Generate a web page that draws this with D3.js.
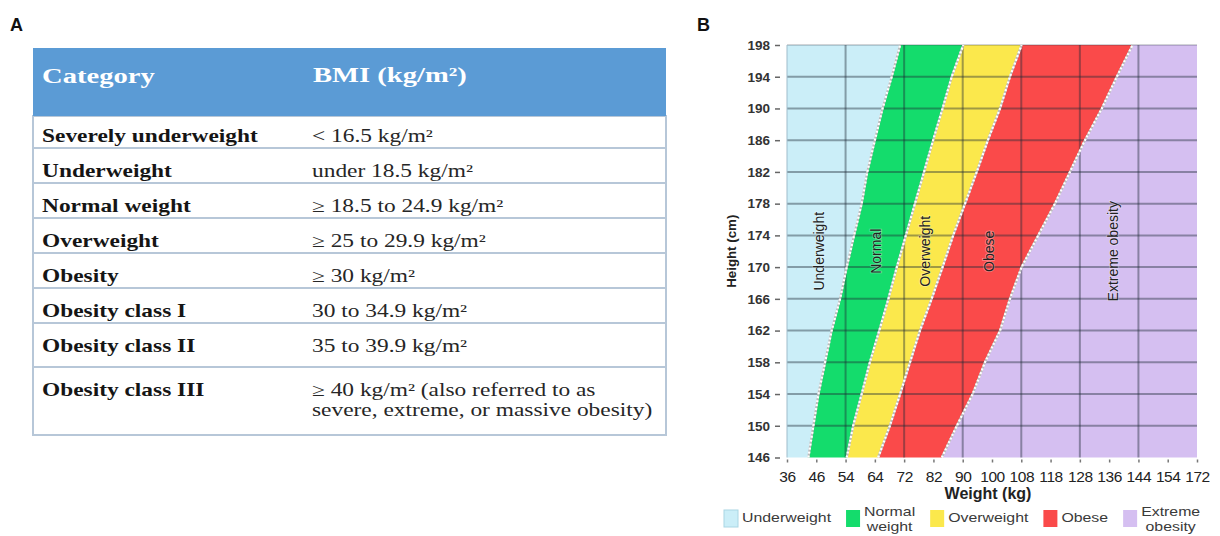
<!DOCTYPE html>
<html><head><meta charset="utf-8">
<script src="https://cdn.jsdelivr.net/npm/d3@7"></script>
<style>body{margin:0;background:#fff}svg{display:block}</style>
</head><body>
<svg id="c" width="1220" height="536"></svg>
<script>
// ---------- DATA ----------
// Panel A (table)
const tableHeaders = ["Category", "BMI (kg/m²)"];
const categories = ["Severely underweight","Underweight","Normal weight","Overweight","Obesity","Obesity class I","Obesity class II","Obesity class III"];
const bmiRanges = [
  ["< 16.5 kg/m²"],
  ["under 18.5 kg/m²"],
  ["≥ 18.5 to 24.9 kg/m²"],
  ["≥ 25 to 29.9 kg/m²"],
  ["≥ 30 kg/m²"],
  ["30 to 34.9 kg/m²"],
  ["35 to 39.9 kg/m²"],
  ["≥ 40 kg/m² (also referred to as", "severe, extreme, or massive obesity)"]
];
// Panel B (BMI chart)
const weightTicks = [36,46,54,64,72,82,90,100,108,118,128,136,144,154,172];
const weightGrid = [54,72,90,108,128,144];
const heightTicks = [146,150,154,158,162,166,170,174,178,182,186,190,194,198];
const heights = [146,150,154,158,162,166,170,174,178,182,186,190,194,198];
const underNormal  = [43.3,45.0,46.6,48.4,50.2,52.5,54.4,56.9,59.5,61.4,64.0,66.1,68.6,70.9];
const normalOver   = [54.4,56.6,59.5,62.3,65.2,67.7,70.0,72.6,75.7,78.8,81.9,84.5,87.0,90.2];
const overObese    = [64.9,68.1,70.9,74.0,77.4,81.4,84.5,87.4,90.8,94.8,98.6,102.2,104.9,108.1];
const obeseExtreme = [84.3,88.4,93.4,97.6,102.2,104.9,108.1,113.8,119.5,124.6,129.4,134.0,138.1,142.4];
const bandNames = ["Underweight","Normal","Overweight","Obese","Extreme obesity"];
const legendNames = [["Underweight"],["Normal","weight"],["Overweight"],["Obese"],["Extreme","obesity"]];

// ---------- STYLE / LAYOUT ----------
const bandColors = ["#cbeef8","#14dc6c","#fbe84c","#fa4a4a","#d5bff1"];
const svg = d3.select("#c");
svg.append("rect").attr("width",1220).attr("height",536).attr("fill","#fff");

// Panel letters
svg.append("text").attr("x",10).attr("y",31).text("A")
  .attr("font-family","Liberation Sans, Arial, sans-serif").attr("font-weight","bold").attr("font-size",18).attr("fill","#111");
svg.append("text").attr("x",697).attr("y",31).text("B")
  .attr("font-family","Liberation Sans, Arial, sans-serif").attr("font-weight","bold").attr("font-size",18).attr("fill","#111");

// ---------- PANEL A ----------
const T = {x0:33, x1:666, top:48, headBottom:116, col2:312, sx:1.3};
const rowHeights = [32,35,35,35,35,35,44,68];
const rowTops = [];
{ let yy = T.headBottom; rowHeights.forEach(h => { rowTops.push(yy); yy += h; }); }
const tableBottom = rowTops[rowTops.length-1] + rowHeights[rowHeights.length-1];
const gA = svg.append("g");
gA.append("rect").attr("x",T.x0).attr("y",T.headBottom).attr("width",T.x1-T.x0).attr("height",tableBottom-T.headBottom)
  .attr("fill","#fff").attr("stroke","#b7c7d8").attr("stroke-width",2);
gA.append("rect").attr("x",T.x0).attr("y",T.top).attr("width",T.x1-T.x0).attr("height",T.headBottom-T.top)
  .attr("fill","#5b9bd5");
gA.selectAll("line.row").data(rowTops.slice(1)).join("line").attr("class","row")
  .attr("x1",T.x0).attr("x2",T.x1).attr("y1",d=>d).attr("y2",d=>d)
  .attr("stroke","#b7c7d8").attr("stroke-width",2);

function stretched(g, x, y, txt, opts){
  return g.append("text").attr("transform",`translate(${x},${y}) scale(${T.sx},1)`)
    .attr("font-family","Liberation Serif, 'Times New Roman', serif")
    .attr("font-size",opts.size).attr("font-weight",opts.weight||"normal").attr("fill",opts.fill).text(txt);
}
stretched(gA, 42, 83, tableHeaders[0], {size:22, weight:"bold", fill:"#fff"});
stretched(gA, 313, 82, tableHeaders[1], {size:22, weight:"bold", fill:"#fff"});
categories.forEach((c,i) => {
  const base = i < 7 ? rowTops[i] + rowHeights[i] - (i===6 ? 15 : 6) : rowTops[i] + 29;
  stretched(gA, 42, base, c, {size:18, weight:"bold", fill:"#151515"});
  bmiRanges[i].forEach((line,k) => {
    stretched(gA, T.col2, base + k*20, line, {size:18, fill:"#262626"});
  });
});

// ---------- PANEL B ----------
const P = {left:787, right:1197, top:45, bottom:457.5};
const step = (P.right-P.left)/(weightTicks.length-1);
const x = d3.scaleLinear().domain(weightTicks).range(weightTicks.map((d,i)=>P.left + i*step));
const y = d3.scaleLinear().domain([heightTicks[0], heightTicks[heightTicks.length-1]]).range([P.bottom, P.top]);
const gB = svg.append("g");

const boundaries = [underNormal, normalOver, overObese, obeseExtreme];
const wMin = weightTicks[0], wMax = weightTicks[weightTicks.length-1];
const bands = bandNames.map((name,i) => ({
  name, color: bandColors[i],
  pts: heights.map((h,j) => ({h, l: i===0 ? wMin : boundaries[i-1][j], r: i===4 ? wMax : boundaries[i][j]}))
}));
const area = d3.area().y(d=>y(d.h)).x0(d=>x(d.l)).x1(d=>x(d.r));
gB.selectAll("path.band").data(bands).join("path").attr("class","band")
  .attr("d",d=>area(d.pts)).attr("fill",d=>d.color);

// grid
gB.selectAll("line.hg").data(heightTicks.filter(h=>h!==heightTicks[0])).join("line").attr("class","hg")
  .attr("x1",P.left).attr("x2",P.right).attr("y1",d=>y(d)).attr("y2",d=>y(d))
  .attr("stroke","#1e2a36").attr("stroke-opacity",d=>d===198?0.2:0.42).attr("stroke-width",2);
gB.selectAll("line.vg").data(weightGrid).join("line").attr("class","vg")
  .attr("x1",d=>x(d)).attr("x2",d=>x(d)).attr("y1",P.top).attr("y2",P.bottom)
  .attr("stroke","#1e2a36").attr("stroke-opacity",0.42).attr("stroke-width",2);
gB.append("line").attr("x1",P.left).attr("x2",P.left).attr("y1",P.top).attr("y2",P.bottom)
  .attr("stroke","#9fbccb").attr("stroke-width",1);

// boundary separators
const bline = d3.line().y(d=>y(d.h)).x(d=>x(d.w));
boundaries.forEach(b => {
  const pts = heights.map((h,j)=>({h, w:b[j]}));
  gB.append("path").attr("d",bline(pts)).attr("fill","none").attr("stroke","#bbb").attr("stroke-width",2.2);
  gB.append("path").attr("d",bline(pts)).attr("fill","none").attr("stroke","#fff").attr("stroke-width",2.2).attr("stroke-dasharray","2,2");
});

// band labels (rotated)
const midH = (heightTicks[0] + heightTicks[heightTicks.length-1]) / 2;
bands.forEach(b => {
  const lx = d3.scaleLinear().domain(heights).range(b.pts.map(p=>p.l))(midH);
  const rx = d3.scaleLinear().domain(heights).range(b.pts.map(p=>p.r))(midH);
  const cx = (x(lx)+x(rx))/2, cy = y(midH);
  gB.append("text").attr("transform",`translate(${cx},${cy}) rotate(-90)`)
    .attr("text-anchor","middle").attr("dy","0.35em")
    .attr("font-family","Liberation Sans, Arial, sans-serif").attr("font-size",14)
    .attr("fill","#222").attr("stroke","#ffffff").attr("stroke-opacity",0.35).attr("stroke-width",1.5)
    .attr("paint-order","stroke").text(b.name);
});

// axes
const yAxis = d3.axisLeft(y).tickValues(heightTicks).tickSize(5).tickPadding(5).tickFormat(d3.format("d"));
const gy = svg.append("g").attr("transform",`translate(${P.left-7},0)`).call(yAxis);
gy.select(".domain").remove();
gy.selectAll(".tick line").attr("stroke","#666").attr("stroke-width",1.5);
gy.selectAll(".tick text").attr("font-family","Liberation Sans, Arial, sans-serif").attr("font-weight","bold")
  .attr("font-size",13.5).attr("fill","#333");

const xAxis = d3.axisBottom(x).tickValues(weightTicks).tickSize(3).tickPadding(8).tickFormat(d3.format("d"));
const gx = svg.append("g").attr("transform",`translate(0,${P.bottom+2})`).call(xAxis);
gx.select(".domain").remove();
gx.selectAll(".tick line").attr("stroke","#777").attr("stroke-width",1.5);
gx.selectAll(".tick text").attr("font-family","Liberation Sans, Arial, sans-serif")
  .attr("font-size",15.5).attr("fill","#222").attr("letter-spacing","-0.4");

svg.append("text").attr("x",(P.left+P.right)/2 - 4).attr("y",499).attr("text-anchor","middle")
  .attr("font-family","Liberation Sans, Arial, sans-serif").attr("font-weight","bold").attr("font-size",16)
  .attr("fill","#222").text("Weight (kg)");
svg.append("text").attr("transform",`translate(736,${y(midH)}) rotate(-90)`).attr("text-anchor","middle")
  .attr("font-family","Liberation Sans, Arial, sans-serif").attr("font-weight","bold").attr("font-size",13.3)
  .attr("fill","#222").text("Height (cm)");

// legend
const gL = svg.append("g");
const LS = 1.22; // horizontal stretch of legend text
let lxPos = 724;
legendNames.forEach((lines,i) => {
  gL.append("rect").attr("x",lxPos).attr("y",510).attr("width",14).attr("height",17)
    .attr("fill",bandColors[i]).attr("stroke", i===0 ? "#a9d6e4" : "none");
  const tx = lxPos + 18;
  const g = gL.append("g").attr("transform",`translate(${tx},0) scale(${LS},1)`);
  const t0 = g.append("text").attr("font-family","Liberation Sans, Arial, sans-serif").attr("font-size",13)
    .attr("fill","#3a3a3a").attr("x",0).attr("y",lines.length>1 ? 516 : 522).text(lines[0]);
  const w0 = t0.node().getComputedTextLength();
  if (lines[1]) {
    t0.attr("text-anchor","middle").attr("x", w0/2);
    g.append("text").attr("font-family","Liberation Sans, Arial, sans-serif").attr("font-size",13)
      .attr("fill","#3a3a3a").attr("text-anchor","middle").attr("x", w0/2).attr("y",531).text(lines[1]);
  }
  lxPos = tx + w0*LS + 15;
});
</script>
</body></html>
